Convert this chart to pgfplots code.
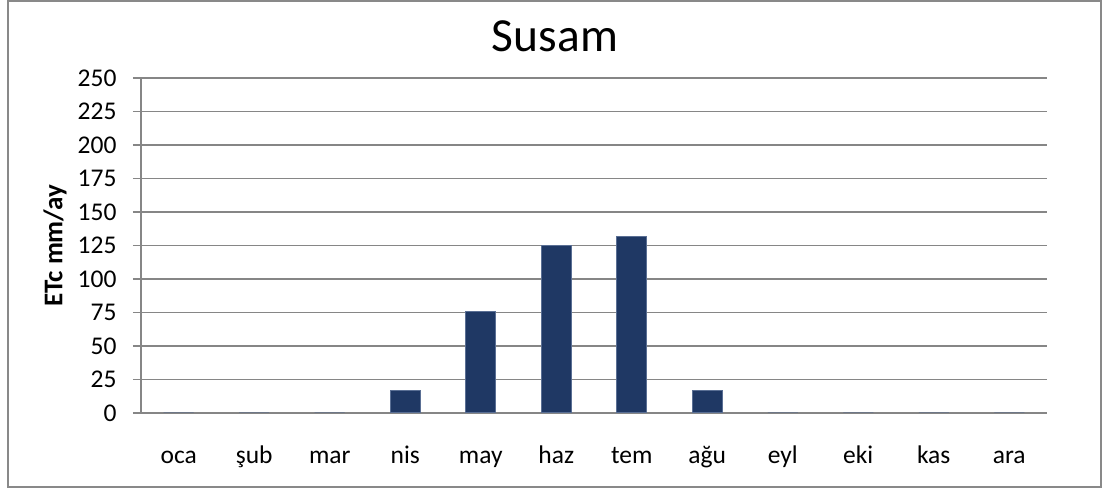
\documentclass[border=0pt]{standalone}
\usepackage{fontspec}
\setmainfont{Carlito}
\usepackage{pgfplots}
\pgfplotsset{compat=1.18}
\definecolor{barblue}{HTML}{1F3864}
\definecolor{baredge}{HTML}{5A6F94}
\definecolor{gridgrey}{HTML}{868686}
\definecolor{framegrey}{HTML}{898989}

\begin{document}
\begin{tikzpicture}
\begin{axis}[
  scale only axis,
  width=362.4pt, height=134pt,
  xmin=-0.5, xmax=11.5,
  ymin=0, ymax=250,
  ytick distance=25,
  xtick={0,...,11},
  xticklabels={oca,şub,mar,nis,may,haz,tem,ağu,eyl,eki,kas,ara},
  axis x line*=bottom,
  axis y line*=left,
  axis line style={draw=gridgrey, line width=0.6pt},
  x axis line style={-},
  y axis line style={-},
  ymajorgrids,
  grid style={draw=gridgrey, line width=0.6pt},
  major x tick style={draw=none},
  major y tick style={draw=gridgrey, line width=0.6pt},
  tick align=outside,
  major tick length=3.2pt,
  /pgf/number format/assume math mode=true,
  tick label style={font=\fontsize{10.2}{12}\selectfont, text=black},
  xticklabel style={anchor=base, yshift=-17.2pt, inner sep=0pt},
  yticklabel style={anchor=east, inner sep=0pt, xshift=-6.4pt},
  title={Susam},
  title style={font=\fontsize{19}{22}\selectfont, at={(rel axis cs:0.5,1)},
    anchor=base, yshift=4.5pt, xshift=-15.6pt, inner sep=0pt},
  ylabel={ETc mm/ay},
  ylabel style={font=\bfseries\fontsize{10.8}{12}\selectfont, at={(rel axis cs:0,0.5)},
    anchor=center, yshift=34.4pt, inner sep=0pt},
  clip=false,
]
\addplot[ybar, bar width=12pt, fill=barblue, draw=baredge, line width=0.4pt]
  coordinates {
    (0,0) (1,0) (2,0) (3,17) (4,76) (5,125)
    (6,132) (7,17) (8,0) (9,0) (10,0) (11,0)
  };
\end{axis}
\draw[framegrey, line width=0.6pt]
  ([xshift=-53.2pt, yshift=-29.6pt]current axis.south west) rectangle
  ([xshift=21.6pt, yshift=30.8pt]current axis.north east);
\useasboundingbox
  ([xshift=-56.4pt, yshift=-30pt]current axis.south west) rectangle
  ([xshift=23.2pt, yshift=31.2pt]current axis.north east);
\end{tikzpicture}
\end{document}
